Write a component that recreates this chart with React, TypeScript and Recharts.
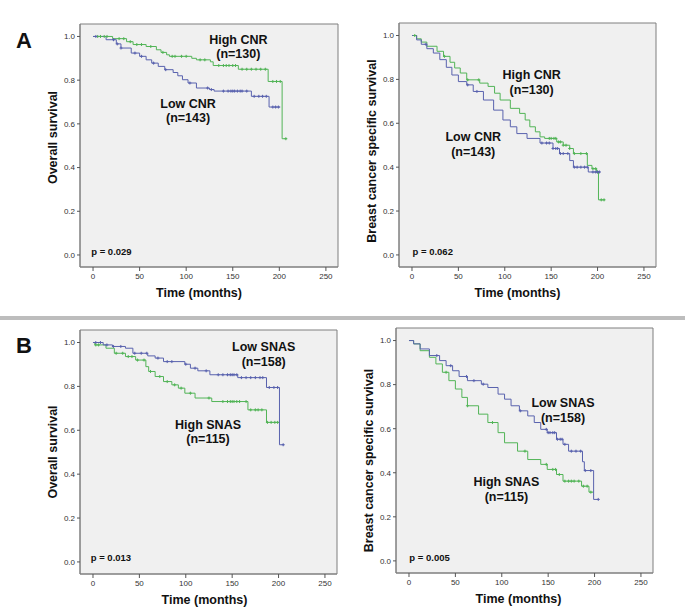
import { ComposedChart, Line, Scatter, XAxis, YAxis, CartesianGrid, ReferenceArea, ReferenceDot } from 'recharts';

// Kaplan-Meier survival curves, CNR (A) and SNAS (B) groups.
// Each curve: [months, survival] step points + censor times.

type Pt = [number, number];

const monthTicks = [0, 50, 100, 150, 200, 250];
const survivalTicks = [0, 0.2, 0.4, 0.6, 0.8, 1.0];

// A - overall survival by CNR
const osCnrHigh: Pt[] = [[0, 1], [21, 0.99], [36, 0.976], [43, 0.963], [57, 0.954], [68, 0.939], [73, 0.927], [79, 0.916], [82, 0.909], [106, 0.9], [111, 0.893], [126, 0.884], [129, 0.867], [156, 0.85], [188, 0.794], [203, 0.532], [208, 0.532]];
const osCnrHighCens = [5, 8, 12, 15, 28, 33, 40, 47, 52, 62, 75, 85, 88, 95, 100, 115, 120, 135, 140, 143, 146, 150, 153, 160, 165, 170, 175, 180, 185, 193, 197, 201, 207];
const osCnrLow: Pt[] = [[0, 1], [14, 0.985], [25, 0.966], [30, 0.947], [41, 0.924], [50, 0.909], [57, 0.893], [63, 0.878], [70, 0.863], [77, 0.848], [86, 0.835], [91, 0.82], [96, 0.802], [102, 0.787], [111, 0.764], [125, 0.757], [130, 0.75], [170, 0.726], [189, 0.677], [201, 0.677]];
const osCnrLowCens = [3, 22, 26, 30, 45, 52, 65, 78, 104, 123, 127, 140, 145, 148, 150, 152, 155, 158, 160, 165, 173, 178, 182, 186, 193, 196, 199];

// A - breast cancer specific survival by CNR
const bcsCnrHigh: Pt[] = [[0, 1], [5, 0.985], [10, 0.97], [16, 0.951], [27, 0.928], [34, 0.905], [41, 0.878], [46, 0.852], [52, 0.829], [59, 0.798], [73, 0.783], [82, 0.768], [89, 0.737], [95, 0.706], [106, 0.668], [116, 0.645], [122, 0.615], [127, 0.584], [133, 0.561], [138, 0.538], [143, 0.531], [156, 0.515], [163, 0.5], [170, 0.485], [174, 0.462], [189, 0.408], [194, 0.393], [199, 0.378], [201, 0.251], [208, 0.251]];
const bcsCnrHighCens = [3, 35, 60, 72, 148, 150, 153, 155, 158, 160, 163, 166, 170, 175, 182, 188, 195, 198, 200, 204, 207];
const bcsCnrLow: Pt[] = [[0, 1], [5, 0.98], [10, 0.96], [16, 0.94], [23, 0.92], [30, 0.89], [37, 0.855], [43, 0.82], [50, 0.79], [59, 0.775], [66, 0.745], [77, 0.706], [88, 0.66], [98, 0.615], [106, 0.584], [113, 0.553], [124, 0.531], [138, 0.51], [152, 0.485], [159, 0.462], [170, 0.43], [174, 0.4], [190, 0.378], [203, 0.378]];
const bcsCnrLowCens = [15, 60, 70, 140, 145, 148, 152, 155, 157, 160, 163, 168, 175, 178, 182, 186, 189, 195, 198, 200, 202];

// B - overall survival by SNAS
const osSnasLow: Pt[] = [[0, 1], [11, 0.989], [21, 0.982], [35, 0.974], [43, 0.951], [59, 0.939], [67, 0.929], [76, 0.913], [99, 0.901], [105, 0.883], [113, 0.871], [126, 0.853], [156, 0.84], [187, 0.795], [201, 0.534], [206, 0.534]];
const osSnasLowCens = [3, 8, 15, 22, 30, 45, 52, 58, 70, 80, 85, 100, 110, 122, 135, 140, 145, 148, 150, 152, 155, 160, 165, 170, 175, 180, 183, 190, 195, 199, 205];
const osSnasHigh: Pt[] = [[0, 1], [2, 0.989], [14, 0.974], [23, 0.951], [35, 0.936], [46, 0.92], [57, 0.89], [60, 0.868], [67, 0.845], [76, 0.822], [85, 0.807], [92, 0.792], [99, 0.769], [110, 0.747], [128, 0.731], [167, 0.693], [187, 0.636], [200, 0.636]];
const osSnasHighCens = [3, 6, 25, 32, 38, 42, 48, 55, 62, 72, 80, 88, 95, 105, 125, 140, 145, 148, 150, 152, 155, 158, 165, 170, 175, 178, 182, 188, 192, 196, 199];

// B - breast cancer specific survival by SNAS
const bcsSnasLow: Pt[] = [[0, 1], [5, 0.985], [12, 0.962], [22, 0.932], [33, 0.909], [40, 0.886], [47, 0.863], [54, 0.837], [63, 0.818], [78, 0.802], [85, 0.787], [96, 0.757], [103, 0.734], [110, 0.704], [119, 0.681], [128, 0.658], [135, 0.628], [142, 0.597], [149, 0.582], [159, 0.552], [166, 0.529], [172, 0.498], [187, 0.45], [189, 0.41], [199, 0.279], [204, 0.279]];
const bcsSnasLowCens = [30, 45, 62, 70, 80, 120, 148, 150, 152, 155, 157, 160, 163, 165, 168, 175, 180, 185, 190, 196, 204];
const bcsSnasHigh: Pt[] = [[0, 1], [5, 0.985], [12, 0.954], [22, 0.924], [29, 0.894], [36, 0.856], [43, 0.818], [50, 0.78], [57, 0.742], [63, 0.704], [75, 0.666], [85, 0.628], [96, 0.582], [103, 0.536], [117, 0.498], [128, 0.46], [142, 0.438], [149, 0.415], [159, 0.392], [166, 0.362], [186, 0.339], [194, 0.312], [199, 0.312]];
const bcsSnasHighCens = [40, 63, 90, 125, 148, 155, 158, 162, 168, 172, 175, 178, 183, 188, 192, 196];

const GREEN = '#52b457';
const BLUE = '#5962ae';
const FONT = '"Liberation Sans", Arial, sans-serif';
const X_DOMAIN = [-14, 263];
const Y_DOMAIN = [-0.055, 1.057];

function survAt(steps: Pt[], t: number) {
  let s = steps[0][1];
  for (const [tt, ss] of steps) {
    if (tt <= t) s = ss;
  }
  return s;
}

const CensorMark = (props: any) => {
  const { cx, cy, fill } = props;
  if (cx == null || cy == null) return null;
  return <path d={`M${cx - 1.5},${cy}h3M${cx},${cy - 1.5}v3`} stroke={fill} strokeWidth={1} fill="none" />;
};

interface Curve { steps: Pt[]; cens: number[]; color: string }
interface Note { t: number; s: number; text: string }

interface PanelProps {
  box: [number, number, number, number];
  yTitle: string;
  yDy: number;
  xDx: number;
  p: Note;
  curves: Curve[];
  notes: Note[];
}

const titleStyle = { fontFamily: FONT, fontSize: 12.5, fontWeight: 700, fill: '#111' };

function KMPanel({ box, yTitle, yDy, xDx, p, curves, notes }: PanelProps) {
  const [bl, bt, bw, bh] = box;
  const yW = 70;
  const xH = 45;
  const tickStyle = { fontFamily: FONT, fontSize: 8, fill: '#333' };

  return (
    <div style={{ position: 'absolute', left: bl - yW, top: bt - 10 }}>
      <ComposedChart width={yW + bw + 10} height={10 + bh + xH} margin={{ top: 10, right: 10, left: 0, bottom: 0 }}>
        <CartesianGrid fill="#f0f0f0" horizontal={false} vertical={false} />
        <XAxis
          dataKey="t"
          type="number"
          domain={X_DOMAIN}
          ticks={monthTicks}
          allowDataOverflow
          height={xH}
          tick={tickStyle}
          tickSize={4}
          tickMargin={2}
          axisLine={{ stroke: '#7f7f7f' }}
          tickLine={{ stroke: '#555' }}
          label={{
            content: (props: any) => {
              const vb = props.viewBox;
              return (
                <text x={vb.x + vb.width / 2 + xDx} y={vb.y + 30} textAnchor="middle" style={titleStyle}>
                  Time (months)
                </text>
              );
            },
          }}
        />
        <YAxis
          type="number"
          domain={Y_DOMAIN}
          ticks={survivalTicks}
          allowDataOverflow
          width={yW}
          tick={tickStyle}
          tickSize={3}
          tickMargin={2}
          tickFormatter={(v: number) => v.toFixed(1)}
          axisLine={{ stroke: '#7f7f7f' }}
          tickLine={{ stroke: '#555' }}
          label={{
            content: (props: any) => {
              const vb = props.viewBox;
              const cx = vb.x + vb.width - 27;
              const cy = vb.y + vb.height / 2 + yDy;
              return (
                <text x={cx} y={cy} transform={`rotate(-90 ${cx} ${cy})`} textAnchor="middle" dominantBaseline="central" style={titleStyle}>
                  {yTitle}
                </text>
              );
            },
          }}
        />
        <ReferenceArea x1={X_DOMAIN[0]} x2={X_DOMAIN[1]} y1={Y_DOMAIN[0]} y2={Y_DOMAIN[1]} fill="none" stroke="#7f7f7f" ifOverflow="visible" />
        {curves.map((c, i) => (
          <Line
            key={`l${i}`}
            data={c.steps.map(([t, s]) => ({ t, s }))}
            dataKey="s"
            type="stepAfter"
            stroke={c.color}
            strokeWidth={1}
            dot={false}
            activeDot={false}
            isAnimationActive={false}
          />
        ))}
        {curves.map((c, i) => (
          <Scatter
            key={`c${i}`}
            data={c.cens.map((t) => ({ t, s: survAt(c.steps, t) }))}
            dataKey="s"
            fill={c.color}
            shape={<CensorMark />}
            isAnimationActive={false}
          />
        ))}
        {notes.map((n, i) => (
          <ReferenceDot
            key={`n${i}`}
            x={n.t}
            y={n.s}
            r={1}
            fill="none"
            stroke="none"
            ifOverflow="visible"
            label={{ value: n.text, position: 'center', fill: '#111', fontSize: 12.5, fontWeight: 700, fontFamily: FONT }}
          />
        ))}
        <ReferenceDot
          x={p.t}
          y={p.s}
          r={1}
          fill="none"
          stroke="none"
          ifOverflow="visible"
          label={{ value: p.text, position: 'right', offset: 0, fill: '#111', fontSize: 9.5, fontWeight: 700, fontFamily: FONT }}
        />
      </ComposedChart>
    </div>
  );
}

export default function App() {
  return (
    <div style={{ position: 'absolute', left: 0, top: 0, width: 685, height: 609, background: '#fff', overflow: 'hidden' }}>
      <svg width={685} height={609} style={{ position: 'absolute', left: 0, top: 0 }}>
        <rect x={0} y={316} width={685} height={4} fill="#bdbdbd" />
        <text x={16} y={48} style={{ fontFamily: FONT, fontSize: 22, fontWeight: 700, fill: '#111' }}>A</text>
        <text x={16} y={353} style={{ fontFamily: FONT, fontSize: 22, fontWeight: 700, fill: '#111' }}>B</text>
      </svg>

      <KMPanel
        box={[80, 24, 258, 243]}
        yTitle="Overall survival"
        yDy={-8}
        xDx={-10}
        p={{ t: -3, s: 0.017, text: 'p = 0.029' }}
        curves={[
          { steps: osCnrHigh, cens: osCnrHighCens, color: GREEN },
          { steps: osCnrLow, cens: osCnrLowCens, color: BLUE },
        ]}
        notes={[
          { t: 156, s: 0.988, text: 'High CNR' },
          { t: 156, s: 0.924, text: '(n=130)' },
          { t: 102, s: 0.695, text: 'Low CNR' },
          { t: 102, s: 0.627, text: '(n=143)' },
        ]}
      />
      <KMPanel
        box={[399, 23, 257, 244]}
        yTitle="Breast cancer specific survival"
        yDy={6}
        xDx={-10}
        p={{ t: -0.5, s: 0.015, text: 'p = 0.062' }}
        curves={[
          { steps: bcsCnrHigh, cens: bcsCnrHighCens, color: GREEN },
          { steps: bcsCnrLow, cens: bcsCnrLowCens, color: BLUE },
        ]}
        notes={[
          { t: 129, s: 0.821, text: 'High CNR' },
          { t: 129, s: 0.752, text: '(n=130)' },
          { t: 66, s: 0.538, text: 'Low CNR' },
          { t: 66, s: 0.469, text: '(n=143)' },
        ]}
      />
      <KMPanel
        box={[80, 330, 257, 244]}
        yTitle="Overall survival"
        yDy={0}
        xDx={-4}
        p={{ t: -3.5, s: 0.018, text: 'p = 0.013' }}
        curves={[
          { steps: osSnasHigh, cens: osSnasHighCens, color: GREEN },
          { steps: osSnasLow, cens: osSnasLowCens, color: BLUE },
        ]}
        notes={[
          { t: 184, s: 0.982, text: 'Low SNAS' },
          { t: 184, s: 0.913, text: '(n=158)' },
          { t: 124, s: 0.625, text: 'High SNAS' },
          { t: 124, s: 0.564, text: '(n=115)' },
        ]}
      />
      <KMPanel
        box={[396, 328, 257, 245]}
        yTitle="Breast cancer specific survival"
        yDy={10}
        xDx={-6}
        p={{ t: -0.7, s: 0.017, text: 'p = 0.005' }}
        curves={[
          { steps: bcsSnasHigh, cens: bcsSnasHighCens, color: GREEN },
          { steps: bcsSnasLow, cens: bcsSnasLowCens, color: BLUE },
        ]}
        notes={[
          { t: 166, s: 0.719, text: 'Low SNAS' },
          { t: 166, s: 0.65, text: '(n=158)' },
          { t: 105, s: 0.362, text: 'High SNAS' },
          { t: 105, s: 0.293, text: '(n=115)' },
        ]}
      />
    </div>
  );
}
